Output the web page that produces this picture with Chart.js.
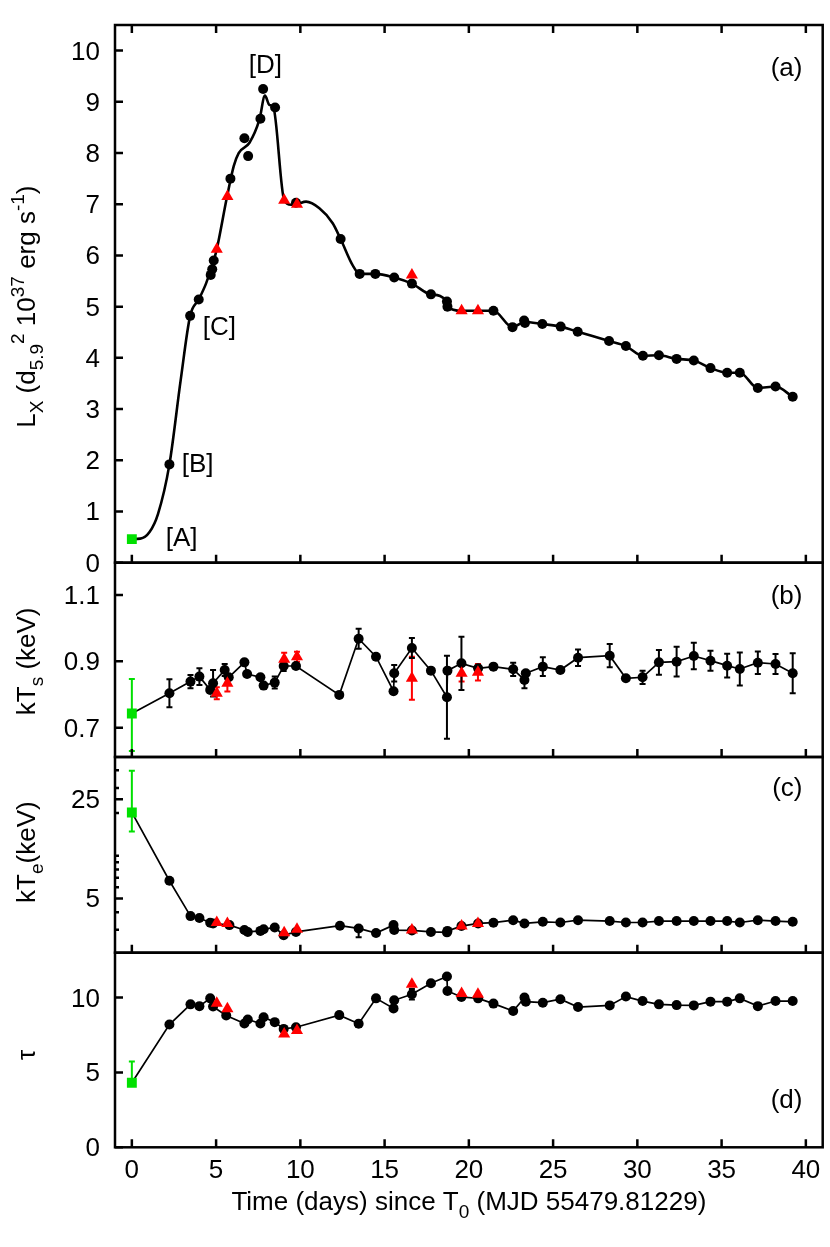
<!DOCTYPE html>
<html>
<head>
<meta charset="utf-8">
<script src="https://cdn.jsdelivr.net/npm/chart.js@4.4.0/dist/chart.umd.min.js"></script>
<style>
  html, body { margin: 0; padding: 0; background: #fff; }
  canvas { display: block; }
</style>
</head>
<body>
<canvas id="lcChart" width="830" height="1247"></canvas>
<script>
// ---------------- data ----------------
const xTicks = [0, 5, 10, 15, 20, 25, 30, 35, 40];

// green square: first pointing
const tGreen = [0];
const lumGreen = [0.46];
const kTsGreen = [0.743], kTsGreenLo = [0.63], kTsGreenHi = [0.847];
const kTeGreen = [20.2], kTeGreenLo = [14.8], kTeGreenHi = [39.8];
const tauGreen = [4.31], tauGreenLo = [4.1], tauGreenHi = [5.73];

// red triangles (same epochs in every panel)
const tRed = [5.04, 5.67, 9.04, 9.8, 16.62, 19.57, 20.54];
const lumRed = [6.12, 7.15, 7.08, 7.0, 5.62, 4.92, 4.92];
const kTsRed = [0.804, 0.834, 0.906, 0.914, 0.849, 0.864, 0.867];
const kTsRedErr = [0.018, 0.025, 0.02, 0.015, 0.065, 0.025, 0.025];
const kTeRed = [3.38, 3.32, 2.86, 3.03, 2.99, 3.19, 3.33];
const tauRed = [9.62, 9.26, 7.57, 7.8, 10.9, 10.27, 10.22];

// panel (a): luminosity, black circles
const tA = [2.23, 3.46, 3.97, 4.68, 4.77, 4.86, 5.85, 6.68, 6.9, 7.63, 7.79, 8.5, 9.74, 12.39,
  13.52, 14.45, 15.57, 16.62, 17.75, 18.7, 18.73, 21.46, 22.59, 23.28, 23.33, 24.36, 25.45,
  26.46, 28.32, 29.32, 30.33, 31.28, 32.33, 33.35, 34.34, 35.33, 36.08, 37.15, 38.2, 39.22];
const lumA = [1.92, 4.82, 5.14, 5.62, 5.73, 5.90, 7.5, 8.29, 7.94, 8.67, 9.25, 8.89, 7.03, 6.32,
  5.64, 5.64, 5.57, 5.45, 5.24, 5.1, 5.0, 4.92, 4.6, 4.73, 4.68, 4.66, 4.61,
  4.51, 4.33, 4.23, 4.04, 4.05, 3.98, 3.95, 3.80, 3.71, 3.71, 3.41, 3.44, 3.24];

// panel (a): smooth light curve traced through the points
const curveT = [0, 0.5, 1.05, 1.55, 2.23, 2.9, 3.46, 3.97, 4.4, 4.86, 5.04, 5.65, 6.05, 6.34,
  6.98, 7.57, 7.9, 8.16, 8.4, 9.04, 9.45, 9.8, 10.34, 11.13, 11.92, 12.39, 13.1, 13.52, 14.45,
  15.57, 16.62, 17.75, 18.7, 18.73, 19.57, 20.54, 21.46, 22.59, 23.3, 24.36, 25.45, 26.46,
  28.32, 29.32, 30.33, 31.28, 32.33, 33.35, 34.34, 35.33, 36.08, 37.15, 38.2, 39.22];
const curveL = [0.46, 0.47, 0.6, 0.95, 1.92, 3.57, 4.82, 5.14, 5.45, 5.9, 6.12, 7.15, 7.75, 8.0,
  8.2, 8.65, 9.12, 8.94, 8.89, 7.08, 6.99, 7.0, 7.05, 6.92, 6.63, 6.32, 5.81, 5.64, 5.64,
  5.57, 5.45, 5.24, 5.1, 5.0, 4.92, 4.92, 4.92, 4.6, 4.7, 4.66, 4.61, 4.51,
  4.33, 4.23, 4.04, 4.05, 3.98, 3.95, 3.80, 3.71, 3.71, 3.41, 3.44, 3.24];

// panel (b): kTs
const tB = [2.23, 3.48, 4.01, 4.65, 4.82, 5.51, 5.75, 6.68, 6.84, 7.63, 7.82, 8.48, 9.01, 9.74,
  12.31, 13.46, 14.49, 15.53, 15.57, 16.62, 17.75, 18.7, 18.73, 19.56, 20.55, 21.46, 22.63,
  23.3, 23.38, 24.39, 25.43, 26.48, 28.36, 29.32, 30.31, 31.28, 32.33, 33.35, 34.34, 35.33,
  36.08, 37.15, 38.2, 39.22];
const kTsB = [0.804, 0.839, 0.854, 0.814, 0.834, 0.874, 0.852, 0.897, 0.862, 0.852, 0.827, 0.836,
  0.886, 0.886, 0.799, 0.968, 0.914, 0.81, 0.864, 0.94, 0.872, 0.792, 0.872, 0.894, 0.879, 0.884,
  0.876, 0.844, 0.864, 0.884, 0.874, 0.911, 0.917, 0.849, 0.852, 0.897, 0.899, 0.916, 0.902,
  0.887, 0.877, 0.896, 0.892, 0.864];
const kTsErr = [0.042, 0.02, 0.025, 0, 0.04, 0.018, 0, 0, 0, 0, 0, 0.018, 0.015, 0, 0, 0.03, 0,
  0, 0.025, 0.03, 0, 0.125, 0, 0.08, 0, 0, 0.02, 0.025, 0, 0.028, 0, 0.025, 0.035, 0, 0.02,
  0.037, 0.045, 0.04, 0.03, 0.036, 0.05, 0.034, 0.03, 0.06];

// panel (c): kTe (log axis)
const tC = [2.23, 3.48, 4.01, 4.65, 4.82, 5.79, 6.68, 6.88, 7.63, 7.82, 8.48, 9.01, 9.74, 12.35,
  13.46, 14.49, 15.53, 15.57, 16.62, 17.75, 18.7, 18.73, 19.56, 20.55, 21.46, 22.63, 23.3, 24.39,
  25.43, 26.48, 28.36, 29.32, 30.31, 31.28, 32.33, 33.35, 34.34, 35.33, 36.08, 37.15, 38.2, 39.22];
const kTeC = [6.66, 3.75, 3.64, 3.37, 3.33, 3.24, 2.99, 2.9, 2.95, 3.03, 3.12, 2.75, 2.9, 3.21,
  3.07, 2.85, 3.24, 2.99, 2.97, 2.9, 2.88, 2.95, 3.19, 3.33, 3.37, 3.51, 3.33, 3.42,
  3.38, 3.51, 3.46, 3.38, 3.38, 3.46, 3.46, 3.46, 3.46, 3.46, 3.38, 3.51, 3.46, 3.42];
const kTeErrT = [13.46], kTeErrLo = [2.66], kTeErrHi = [3.2];

// panel (d): tau
const tD = [2.23, 3.48, 4.01, 4.65, 4.82, 5.6, 6.68, 6.88, 7.63, 7.82, 8.48, 9.01, 9.74, 12.31,
  13.46, 14.49, 15.53, 15.57, 16.62, 17.75, 18.7, 18.73, 19.56, 20.55, 21.46, 22.63, 23.3, 23.38,
  24.39, 25.43, 26.48, 28.36, 29.32, 30.31, 31.28, 32.33, 33.35, 34.34, 35.33, 36.08, 37.15,
  38.2, 39.22];
const tauD = [8.2, 9.55, 9.43, 9.95, 9.4, 8.81, 8.27, 8.54, 8.27, 8.69, 8.36, 7.91, 8.02, 8.83,
  8.25, 9.95, 9.28, 9.82, 10.22, 10.96, 11.41, 10.44, 10.04, 9.95, 9.6, 9.1, 10.0, 9.73,
  9.66, 9.89, 9.37, 9.48, 10.07, 9.77, 9.55, 9.5, 9.48, 9.73, 9.73, 9.95, 9.43,
  9.77, 9.77];
const tauErrT = [13.46, 16.62], tauErr = [0.2, 0.35];

// axis ticks and labels
const ticksA = [0, 1, 2, 3, 4, 5, 6, 7, 8, 9, 10];
const ticksB = [0.7, 0.9, 1.1];
const ticksC = [5, 25];
const minorC = [3, 4, 6, 7, 8, 9, 10, 20, 30, 40];
const ticksD = [0, 5, 10];
const panelTags = ['(a)', '(b)', '(c)', '(d)'];
const tagY = [9.68, 1.1, 30.5, 3.2];
const phaseLabels = ['[A]', '[B]', '[C]', '[D]'];
const phaseX = [2.95, 3.9, 5.2, 7.93];
const phaseY = [0.5, 1.95, 4.62, 9.74];

// ---------------- helpers ----------------
const FONT = '"Liberation Sans", Arial, Helvetica, sans-serif';
const FS = 26;
const BLACK = '#000000', RED = '#ff0000', GREEN = '#00e000';

function pts(xs, ys) {
    return xs.map((x, i) => ({ x: x, y: ys[i] }));
}

function bars(xs, lo, hi) {
    return xs.map((x, i) => ({ x: x, lo: lo[i], hi: hi[i] })).filter(e => e.hi > e.lo);
}

function markers(label, xs, ys, axis, style, color, radius, errs) {
    return {
        label: label,
        data: pts(xs, ys),
        yAxisID: axis,
        showLine: false,
        pointStyle: style,
        pointRadius: radius,
        pointBackgroundColor: color,
        pointBorderColor: color,
        pointBorderWidth: 0,
        errBars: errs || [],
        errColor: color
    };
}

function line(label, xs, ys, axis, width, radius, smooth, errs) {
    return {
        label: label,
        data: pts(xs, ys),
        yAxisID: axis,
        showLine: true,
        borderColor: BLACK,
        borderWidth: width,
        tension: 0,
        cubicInterpolationMode: smooth ? 'monotone' : 'default',
        pointStyle: 'circle',
        pointRadius: ctx => (ctx.dataIndex === 0 ? 0 : radius),
        pointBackgroundColor: BLACK,
        pointBorderColor: BLACK,
        pointBorderWidth: 0,
        errBars: errs || [],
        errColor: BLACK
    };
}

// draw text with sub/superscripts, optionally rotated (reading upwards)
function drawRich(ctx, parts, x, y, rotate) {
    const small = Math.round(FS * 0.72);
    ctx.save();
    ctx.translate(x, y);
    if (rotate) ctx.rotate(-Math.PI / 2);
    ctx.textAlign = 'left';
    ctx.textBaseline = 'alphabetic';
    const widths = parts.map(p => {
        ctx.font = (p[1] ? small : FS) + 'px ' + FONT;
        return ctx.measureText(p[0]).width;
    });
    let cx = -widths.reduce((a, b) => a + b, 0) / 2;
    parts.forEach((p, i) => {
        ctx.font = (p[1] ? small : FS) + 'px ' + FONT;
        let dy = 0;
        if (p[1] === 'sub') dy = FS * 0.3;
        if (p[1] === 'sup') dy = -FS * 0.42;
        ctx.fillText(p[0], cx, dy);
        cx += widths[i];
    });
    ctx.restore();
}

// ---------------- panel decorations ----------------
const panels = [
    { id: 'yA', ticks: ticksA, fmt: v => String(v), topTicks: true, titleAt: 5.0,
      title: [['L', ''], ['X', 'sub'], [' (d', ''], ['5.9', 'sub'], ['2', 'sup'], [' 10', ''], ['37', 'sup'], [' erg s', ''], ['-1', 'sup'], [')', '']] },
    { id: 'yB', ticks: ticksB, fmt: v => v.toFixed(1), titleAt: 0.9,
      title: [['kT', ''], ['s', 'sub'], [' (keV)', '']] },
    { id: 'yC', ticks: ticksC, minor: minorC, fmt: v => String(v), titleAt: 10.6,
      title: [['kT', ''], ['e', 'sub'], ['(keV)', '']] },
    { id: 'yD', ticks: ticksD, fmt: v => String(v), titleAt: 6.18,
      title: [['\u03c4', '']] }
];

const panelAxes = {
    id: 'panelAxes',
    beforeDatasetsDraw(chart) {
        const ctx = chart.ctx;
        const xs = chart.scales.x;
        ctx.save();
        chart.data.datasets.forEach(ds => {
            const ys = chart.scales[ds.yAxisID];
            ctx.strokeStyle = ds.errColor;
            ctx.lineWidth = 2;
            (ds.errBars || []).forEach(e => {
                const px = xs.getPixelForValue(e.x);
                const p1 = ys.getPixelForValue(e.lo);
                const p2 = ys.getPixelForValue(e.hi);
                ctx.beginPath();
                ctx.moveTo(px, p1); ctx.lineTo(px, p2);
                ctx.moveTo(px - 3, p1); ctx.lineTo(px + 3, p1);
                ctx.moveTo(px - 3, p2); ctx.lineTo(px + 3, p2);
                ctx.stroke();
            });
        });
        ctx.restore();
    },
    afterDraw(chart) {
        const ctx = chart.ctx;
        const xs = chart.scales.x;
        const area = chart.chartArea;
        const tick = 8;
        ctx.save();
        ctx.strokeStyle = BLACK;
        ctx.fillStyle = BLACK;
        ctx.lineWidth = 2.5;

        panels.forEach((p, k) => {
            const ys = chart.scales[p.id];
            // frame
            ctx.strokeRect(area.left, ys.top, area.right - area.left, ys.bottom - ys.top);
            // x ticks (inward)
            ctx.beginPath();
            xTicks.forEach(v => {
                const px = xs.getPixelForValue(v);
                ctx.moveTo(px, ys.bottom); ctx.lineTo(px, ys.bottom - tick);
                if (p.topTicks) { ctx.moveTo(px, ys.top); ctx.lineTo(px, ys.top + tick); }
            });
            // y ticks (inward, left only)
            p.ticks.forEach(v => {
                const py = ys.getPixelForValue(v);
                ctx.moveTo(area.left, py); ctx.lineTo(area.left + tick, py);
            });
            (p.minor || []).forEach(v => {
                const py = ys.getPixelForValue(v);
                ctx.moveTo(area.left, py); ctx.lineTo(area.left + tick / 2, py);
            });
            ctx.stroke();

            // y tick labels
            ctx.font = FS + 'px ' + FONT;
            ctx.textAlign = 'right';
            ctx.textBaseline = 'alphabetic';
            p.ticks.forEach(v => {
                ctx.fillText(p.fmt(v), area.left - 15, ys.getPixelForValue(v) + 9);
            });

            // panel tag
            ctx.fillText(panelTags[k], xs.getPixelForValue(39.8), ys.getPixelForValue(tagY[k]) + 9);

            // y title
            drawRich(ctx, p.title, 35, ys.getPixelForValue(p.titleAt), true);
        });

        // phase labels in panel (a)
        const ya = chart.scales.yA;
        ctx.font = FS + 'px ' + FONT;
        ctx.textAlign = 'center';
        phaseLabels.forEach((s, i) => {
            ctx.fillText(s, xs.getPixelForValue(phaseX[i]), ya.getPixelForValue(phaseY[i]) + 9);
        });

        // x tick labels and title
        xTicks.forEach(v => {
            ctx.fillText(String(v), xs.getPixelForValue(v), area.bottom + 31);
        });
        drawRich(ctx, [['Time (days) since T', ''], ['0', 'sub'], [' (MJD 55479.81229)', '']],
            (area.left + area.right) / 2, area.bottom + 63, false);
        ctx.restore();
    }
};

// ---------------- chart ----------------
const datasets = [
    // green squares (drawn on top)
    markers('A green', tGreen, lumGreen, 'yA', 'rect', GREEN, 7),
    markers('B green', tGreen, kTsGreen, 'yB', 'rect', GREEN, 7, bars(tGreen, kTsGreenLo, kTsGreenHi)),
    markers('C green', tGreen, kTeGreen, 'yC', 'rect', GREEN, 7, bars(tGreen, kTeGreenLo, kTeGreenHi)),
    markers('D green', tGreen, tauGreen, 'yD', 'rect', GREEN, 7, bars(tGreen, tauGreenLo, tauGreenHi)),
    // red triangles
    markers('A red', tRed, lumRed, 'yA', 'triangle', RED, 7),
    markers('B red', tRed, kTsRed, 'yB', 'triangle', RED, 7,
        bars(tRed, kTsRed.map((v, i) => v - kTsRedErr[i]), kTsRed.map((v, i) => v + kTsRedErr[i]))),
    markers('C red', tRed, kTeRed, 'yC', 'triangle', RED, 7),
    markers('D red', tRed, tauRed, 'yD', 'triangle', RED, 7),
    // black circles
    markers('A black', tA, lumA, 'yA', 'circle', BLACK, 5),
    line('A curve', curveT, curveL, 'yA', 2.6, 0, true),
    line('B', tGreen.concat(tB), kTsGreen.concat(kTsB), 'yB', 1.7, 5, false,
        bars(tB, kTsB.map((v, i) => v - kTsErr[i]), kTsB.map((v, i) => v + kTsErr[i]))),
    line('C', tGreen.concat(tC), kTeGreen.concat(kTeC), 'yC', 1.7, 5, false,
        bars(kTeErrT, kTeErrLo, kTeErrHi)),
    line('D', tGreen.concat(tD), tauGreen.concat(tauD), 'yD', 1.7, 5, false,
        bars(tauErrT, tauErrT.map((t, i) => tauD[tD.indexOf(t)] - tauErr[i]),
            tauErrT.map((t, i) => tauD[tD.indexOf(t)] + tauErr[i])))
];

const chart = new Chart(document.getElementById('lcChart').getContext('2d'), {
    type: 'scatter',
    data: { datasets: datasets },
    options: {
        responsive: false,
        animation: false,
        layout: { padding: { left: 115, right: 7.3, top: 25, bottom: 99.7 } },
        plugins: { legend: { display: false }, tooltip: { enabled: false } },
        scales: {
            x: { type: 'linear', min: -1, max: 41, display: false },
            yA: { type: 'linear', position: 'left', stack: 'panels', stackWeight: 537.7, weight: 4, min: 0, max: 10.5, display: false },
            yB: { type: 'linear', position: 'left', stack: 'panels', stackWeight: 194.3, weight: 3, min: 0.612, max: 1.197, display: false },
            yC: { type: 'logarithmic', position: 'left', stack: 'panels', stackWeight: 195.7, weight: 2, min: 2.07, max: 49.7, display: false },
            yD: { type: 'linear', position: 'left', stack: 'panels', stackWeight: 194.6, weight: 1, min: 0, max: 13, display: false }
        }
    },
    plugins: [panelAxes]
});
</script>
</body>
</html>
